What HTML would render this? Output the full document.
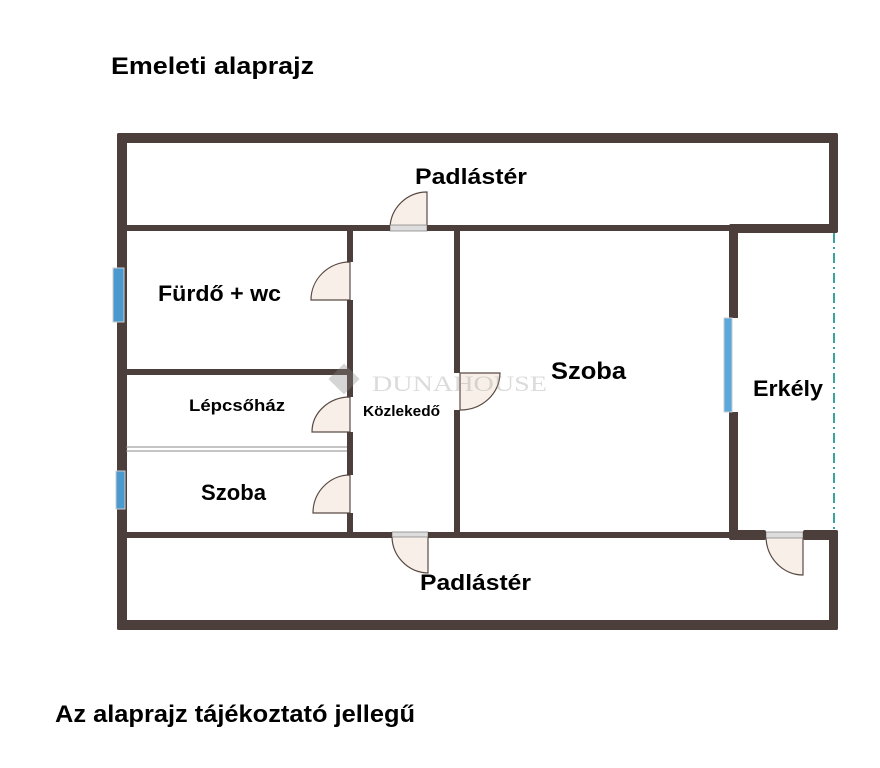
<!DOCTYPE html>
<html><head><meta charset="utf-8"><style>
html,body{margin:0;padding:0;background:#fff;}
svg{display:block;font-family:"Liberation Sans",Arial,sans-serif;font-weight:bold;}
</style></head><body>
<svg width="880" height="768" viewBox="0 0 880 768" xmlns="http://www.w3.org/2000/svg">
<rect width="880" height="768" fill="#fff"/>
<text x="111" y="74" font-size="24" textLength="203" lengthAdjust="spacingAndGlyphs">Emeleti alaprajz</text>
<text x="55" y="722" font-size="24" textLength="360" lengthAdjust="spacingAndGlyphs">Az alaprajz tájékoztató jellegű</text>

<g fill="#f8f0e8" stroke="#5a4a45" stroke-width="1.2">
<path d="M427,228 L427,192 A37,37 0 0 0 390,228 Z"/>
<path d="M350,262 L350,300 L311,300 A39,38 0 0 1 350,262 Z"/>
<path d="M350,397 L350,432 L312,432 A38,35 0 0 1 350,397 Z"/>
<path d="M350,475 L350,513 L313,513 A37,38 0 0 1 350,475 Z"/>
<path d="M460,373 L500,373 A40,37 0 0 1 460,410 Z"/>
<path d="M428,536 L428,573 A37,37 0 0 1 392,536 Z"/>
<path d="M803,536 L803,575 A37,39 0 0 1 766,536 Z"/>
</g>
<g fill="#ddd" stroke="#888" stroke-width="0.8">
<rect x="390" y="225" width="37" height="6"/>
<rect x="392" y="532" width="36" height="5"/>
<rect x="766" y="532" width="37" height="6"/>
</g>

<g fill="#4c3e3a">
<rect x="117" y="133" width="721" height="10" rx="2"/>
<rect x="117" y="133" width="10" height="497" rx="2"/>
<rect x="829" y="133" width="9" height="99" rx="2"/>
<rect x="117" y="620" width="721" height="10" rx="2"/>
<rect x="829" y="530" width="9" height="100" rx="2"/>
<rect x="121" y="225" width="269" height="6"/>
<rect x="427" y="225" width="306" height="6"/>
<rect x="729" y="224" width="109" height="9" rx="2"/>
<rect x="121" y="532" width="271" height="6"/>
<rect x="428" y="532" width="305" height="6"/>
<rect x="729" y="530" width="37" height="10" rx="2"/>
<rect x="803" y="530" width="35" height="10" rx="2"/>
<rect x="121" y="369" width="229" height="6"/>
<rect x="347" y="228" width="6" height="34"/>
<rect x="347" y="300" width="6" height="97"/>
<rect x="347" y="432" width="6" height="43"/>
<rect x="347" y="513" width="6" height="22"/>
<rect x="454" y="228" width="6" height="145"/>
<rect x="454" y="410" width="6" height="125"/>
<rect x="729" y="226" width="9" height="92"/>
<rect x="729" y="412" width="9" height="124"/>
</g>
<line x1="126" y1="447" x2="347" y2="447" stroke="#888" stroke-width="1"/>
<line x1="126" y1="451" x2="347" y2="451" stroke="#888" stroke-width="1"/>
<rect x="113" y="268" width="11" height="54" fill="#4a9ad0" stroke="#ccc" stroke-width="1"/>
<rect x="116" y="471" width="9" height="38" fill="#4a9ad0" stroke="#ccc" stroke-width="1"/>
<rect x="724" y="318" width="8" height="94" fill="#5aa8dc" stroke="#ccc" stroke-width="1"/>
<line x1="834" y1="233" x2="834" y2="530" stroke="#3aa39a" stroke-width="2" stroke-dasharray="10,4,2,4"/>

<g opacity="0.35" fill="#888">
<rect x="333" y="368" width="22" height="22" transform="rotate(45 344 379)"/>
<text x="372" y="391" font-family="Liberation Serif,serif" font-weight="normal" font-size="22" fill="#999" textLength="175" lengthAdjust="spacingAndGlyphs">DUNAHOUSE</text>
</g>

<g fill="#000" font-size="22">
<text x="415" y="184" textLength="112" lengthAdjust="spacingAndGlyphs">Padlástér</text>
<text x="158" y="301" textLength="123" lengthAdjust="spacingAndGlyphs">Fürdő + wc</text>
<text x="189" y="411" font-size="17" textLength="96" lengthAdjust="spacingAndGlyphs">Lépcsőház</text>
<text x="363" y="416" font-size="15" textLength="77" lengthAdjust="spacingAndGlyphs">Közlekedő</text>
<text x="201" y="500" textLength="65" lengthAdjust="spacingAndGlyphs">Szoba</text>
<text x="551" y="379" font-size="24" textLength="75" lengthAdjust="spacingAndGlyphs">Szoba</text>
<text x="753" y="396" textLength="70" lengthAdjust="spacingAndGlyphs">Erkély</text>
<text x="420" y="590" textLength="111" lengthAdjust="spacingAndGlyphs">Padlástér</text>
</g>
</svg>
</body></html>
